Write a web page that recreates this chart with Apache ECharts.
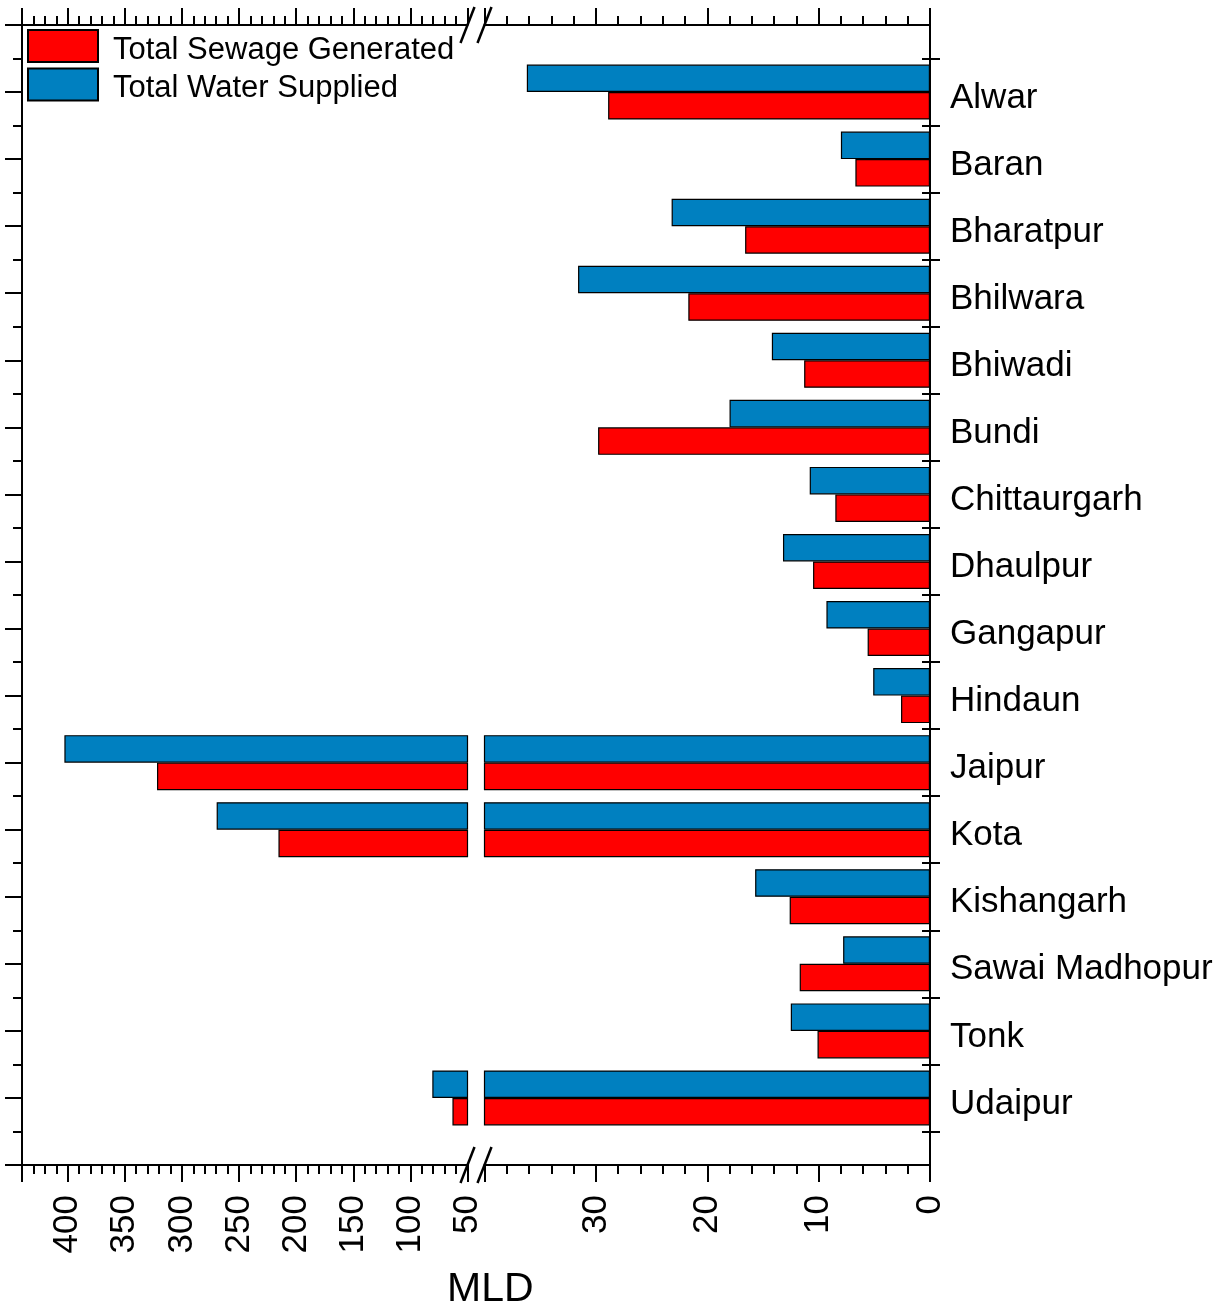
<!DOCTYPE html>
<html><head><meta charset="utf-8">
<script src="https://cdn.jsdelivr.net/npm/echarts@6/dist/echarts.min.js"></script>
<style>html,body{margin:0;padding:0;background:#fff}#c{width:1225px;height:1306px}</style>
</head><body><div id="c"></div>
<script>
// ---- data ----
const cities = ['Alwar','Baran','Bharatpur','Bhilwara','Bhiwadi','Bundi','Chittaurgarh','Dhaulpur','Gangapur','Hindaun','Jaipur','Kota','Kishangarh','Sawai Madhopur','Tonk','Udaipur'];
const sewage = [28.9, 6.7, 16.6, 21.7, 11.3, 29.8, 8.5, 10.5, 5.6, 2.6, 321.8, 215.5, 12.6, 11.7, 10.1, 63.2];
const water  = [36.2, 8.0, 23.2, 31.6, 14.2, 18.0, 10.8, 13.2, 9.3, 5.1, 402.9, 269.6, 15.7, 7.8, 12.5, 80.8];
const seriesNames = ['Total Sewage Generated', 'Total Water Supplied'];
const lowRange = [0, 40];     // right segment of broken axis
const highRange = [50, 440];  // left segment of broken axis
const axisTitle = 'MLD';

// ---- layout constants ----
const FONT = 'Liberation Sans, Arial, sans-serif';
const TOP = 25, BOTTOM = 1165;
const L_LEFT = 22, L_RIGHT = 467.5, R_LEFT = 484.5, R_RIGHT = 930;
const RED = '#FF0000', BLUE = '#0080C0';

const yCats = [''].concat(cities, [' ']);
const pad = a => [null].concat(a, [null]);

const chart = echarts.init(document.getElementById('c'), null, {renderer: 'canvas'});

const axisLineStyle = {show: true, onZero: false, lineStyle: {color: '#000', width: 2}};
function xAx(grid, range, interval, pos, labels) {
  return {
    type: 'value', gridIndex: grid, min: range[0], max: range[1], interval: interval,
    inverse: true, position: pos,
    axisLine: axisLineStyle,
    axisTick: {show: true, length: 17, lineStyle: {color: '#000', width: 2}},
    minorTick: {show: true, splitNumber: 5, length: 9, lineStyle: {color: '#000', width: 2}},
    splitLine: {show: false}, minorSplitLine: {show: false},
    axisLabel: labels ? {show: true, rotate: 90, fontSize: 35, fontFamily: FONT, color: '#000', margin: 30, showMaxLabel: false} : {show: false}
  };
}
const valY = (grid, pos, extra) => Object.assign({
  type: 'value', gridIndex: grid, min: -1, max: cities.length, interval: 1, inverse: true, position: pos,
  axisLine: axisLineStyle, splitLine: {show: false}, axisLabel: {show: false}
}, extra);

const barBase = {
  type: 'bar', barGap: '0%', barCategoryGap: '18%', clip: true,
  itemStyle: {borderColor: '#000', borderWidth: 1.2}
};

const slashes = [];
[L_RIGHT, R_LEFT].forEach(x => [TOP, BOTTOM].forEach(y => {
  slashes.push({type: 'line', shape: {x1: x - 7, y1: y + 18, x2: x + 7, y2: y - 18},
    style: {stroke: '#000', lineWidth: 2.5}, z: 100});
}));

chart.setOption({
  animation: false,
  backgroundColor: '#fff',
  textStyle: {fontFamily: FONT},
  title: {text: axisTitle, left: 442, top: 1264, textStyle: {fontSize: 41, fontWeight: 'normal', color: '#000', fontFamily: FONT}},
  legend: {
    data: seriesNames, orient: 'vertical', left: 27, top: 29, padding: 0,
    itemWidth: 70, itemHeight: 32, itemGap: 2, icon: 'rect',
    formatter: n => '{a|' + n + '}',
    textStyle: {fontSize: 31, color: '#000', fontFamily: FONT,
      rich: {a: {fontSize: 31, color: '#000', fontFamily: FONT, padding: [8, 0, 0, 10]}}}
  },
  grid: [
    {left: L_LEFT, top: TOP, width: L_RIGHT - L_LEFT, height: BOTTOM - TOP, outerBoundsMode: 'none'},
    {left: R_LEFT, top: TOP, width: R_RIGHT - R_LEFT, height: BOTTOM - TOP, outerBoundsMode: 'none'}
  ],
  xAxis: [
    xAx(0, highRange, 50, 'bottom', true),
    xAx(0, highRange, 50, 'top', false),
    xAx(1, lowRange, 10, 'bottom', true),
    xAx(1, lowRange, 10, 'top', false)
  ],
  yAxis: [
    {type: 'category', gridIndex: 0, data: yCats, inverse: true, boundaryGap: false, show: false},
    valY(0, 'left', {
      axisTick: {show: true, length: 17, lineStyle: {color: '#000', width: 2}},
      minorTick: {show: true, splitNumber: 2, length: 9, lineStyle: {color: '#000', width: 2}}
    }),
    {type: 'category', gridIndex: 1, data: yCats, inverse: true, boundaryGap: false, position: 'right',
      axisLine: {show: false, onZero: false}, axisTick: {show: false},
      axisLabel: {show: true, interval: 0, margin: 20,
        formatter: v => '{a|' + v + '}',
        rich: {a: {fontSize: 35, color: '#000', fontFamily: FONT, padding: [12, 0, 0, 0]}}}},
    valY(1, 'right', {
      axisTick: {show: false, inside: false},
      minorTick: {show: true, splitNumber: 2, length: 10, lineStyle: {color: '#000', width: 2}}
    }),
    valY(1, 'right', {
      axisTick: {show: false, inside: true},
      minorTick: {show: true, splitNumber: 2, length: 8, lineStyle: {color: '#000', width: 2}}
    })
  ],
  series: [
    Object.assign({}, barBase, {name: seriesNames[1], xAxisIndex: 0, yAxisIndex: 0, data: pad(water), itemStyle: Object.assign({color: BLUE}, barBase.itemStyle)}),
    Object.assign({}, barBase, {name: seriesNames[0], xAxisIndex: 0, yAxisIndex: 0, data: pad(sewage), itemStyle: Object.assign({color: RED}, barBase.itemStyle)}),
    Object.assign({}, barBase, {name: seriesNames[1], xAxisIndex: 2, yAxisIndex: 2, data: pad(water), itemStyle: Object.assign({color: BLUE}, barBase.itemStyle)}),
    Object.assign({}, barBase, {name: seriesNames[0], xAxisIndex: 2, yAxisIndex: 2, data: pad(sewage), itemStyle: Object.assign({color: RED}, barBase.itemStyle)})
  ],
  graphic: slashes
});
</script></body></html>
